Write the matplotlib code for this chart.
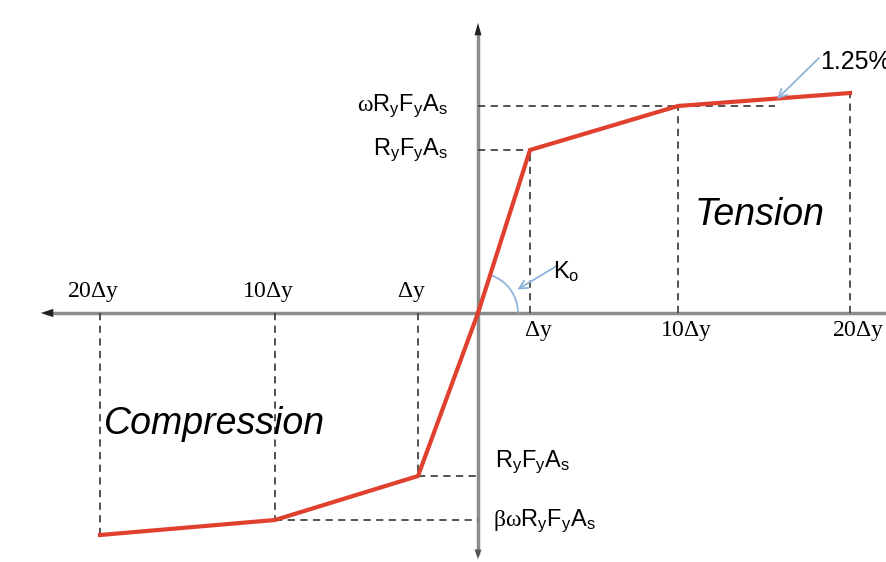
import matplotlib
matplotlib.use('Agg')
import matplotlib.pyplot as plt
from matplotlib.patches import Arc
import numpy as np

plt.rcParams['mathtext.fontset'] = 'custom'
plt.rcParams['mathtext.rm'] = 'Liberation Serif'
plt.rcParams['mathtext.sf'] = 'Liberation Sans'
plt.rcParams['mathtext.it'] = 'Liberation Sans:italic'

# schematic backbone (displacement, force) in drawing units
tension_disp = [0, 52, 200, 372]
tension_force = [0, 163, 207, 220]
comp_disp = [0, -60, -203, -378]
comp_force = [0, -163, -207, -222]
hardening_end = 297          # end of the omega*RyFyAs guide line (1.25% slope)

tension_ticks = [r'$\Delta$y', r'10$\Delta$y', r'20$\Delta$y']
comp_ticks = [r'$\Delta$y', r'10$\Delta$y', r'20$\Delta$y']

fig = plt.figure(figsize=(8.86, 5.62), dpi=100)
ax = fig.add_axes([0, 0, 1, 1])
ax.set_xlim(-478, 408)
ax.set_ylim(-249, 313)
ax.axis('off')

axcol = '#8c8c8c'
dash = dict(color='#444444', lw=1.3, ls=(0, (4, 3)))

# axes with arrows
ax.plot([-430, 408], [0, 0], color=axcol, lw=2.5, zorder=1)
ax.annotate('', xy=(-440, 0), xytext=(-415, 0),
            arrowprops=dict(arrowstyle='-|>,head_length=0.9,head_width=0.3', color='#222222', lw=0))
ax.plot([0, 0], [-240, 280], color=axcol, lw=2.5, zorder=1)
ax.annotate('', xy=(0, 293), xytext=(0, 270),
            arrowprops=dict(arrowstyle='-|>,head_length=0.9,head_width=0.25', color='#222222', lw=0))
ax.annotate('', xy=(0, -249), xytext=(0, -232),
            arrowprops=dict(arrowstyle='-|>,head_length=0.7,head_width=0.25', color='#555555', lw=0))

# guide lines, tension side
ax.plot([0, tension_disp[1]], [tension_force[1]] * 2, **dash)
ax.plot([tension_disp[1]] * 2, [0, tension_force[1]], **dash)
ax.plot([0, hardening_end], [tension_force[2]] * 2, **dash)
ax.plot([tension_disp[2]] * 2, [0, tension_force[2]], **dash)
ax.plot([tension_disp[3]] * 2, [0, tension_force[3]], **dash)

# guide lines, compression side
ax.plot([comp_disp[1], 0], [comp_force[1]] * 2, **dash)
ax.plot([comp_disp[1]] * 2, [0, comp_force[1]], **dash)
ax.plot([comp_disp[2], 0], [comp_force[2]] * 2, **dash)
ax.plot([comp_disp[2]] * 2, [0, comp_force[2]], **dash)
ax.plot([comp_disp[3]] * 2, [0, comp_force[3]], **dash)

# backbone
ax.plot(tension_disp, tension_force, color='#e0402e', lw=3, zorder=3, solid_joinstyle='miter')
ax.plot(comp_disp, comp_force, color='#e0402e', lw=3, zorder=3, solid_joinstyle='miter')

# tick labels
for x, lab in zip(tension_disp[1:], tension_ticks):
    ax.text(x + 8, -6, lab, ha='center', va='top', fontsize=17, family='Liberation Serif')
for x, lab in zip(comp_disp[1:], comp_ticks):
    ax.text(x - 7, 9, lab, ha='center', va='bottom', fontsize=17, family='Liberation Serif')

# force labels
ax.text(-30, tension_force[2], r'$\mathrm{\omega}\mathsf{R_yF_yA_s}$', ha='right', va='center', fontsize=17)
ax.text(-30, tension_force[1], r'$\mathsf{R_yF_yA_s}$', ha='right', va='center', fontsize=17)
ax.text(17, comp_force[1] + 14, r'$\mathsf{R_yF_yA_s}$', ha='left', va='center', fontsize=17)
ax.text(15, comp_force[2] - 1, r'$\mathrm{\beta\omega}\mathsf{R_yF_yA_s}$', ha='left', va='center', fontsize=17)

# region labels
ax.text(282, 98, 'Tension', ha='center', va='center', fontsize=27, style='italic', family='Liberation Sans')
ax.text(-263, -111, 'Compression', ha='center', va='center', fontsize=27, style='italic', family='Liberation Sans')

# initial stiffness
ang = np.degrees(np.arctan2(tension_force[1], tension_disp[1]))
ax.add_patch(Arc((0, 0), 80, 80, theta1=0, theta2=ang, color='#8fb4dc', lw=1.3))
ax.annotate('', xy=(37, 22), xytext=(82, 49),
            arrowprops=dict(arrowstyle='->,head_length=0.6,head_width=0.3', color='#8fb4dc', lw=1.3))
ax.text(75, 41, r'$\mathsf{K_o}$', ha='left', va='center', fontsize=17)

# post-yield slope
ax.annotate('', xy=(hardening_end, 212), xytext=(343, 257),
            arrowprops=dict(arrowstyle='->,head_length=0.6,head_width=0.3', color='#8fb4dc', lw=1.3))
ax.text(342, 251, '1.25%', ha='left', va='center', fontsize=18, family='Liberation Sans')

fig.savefig('out.png', dpi=100)
